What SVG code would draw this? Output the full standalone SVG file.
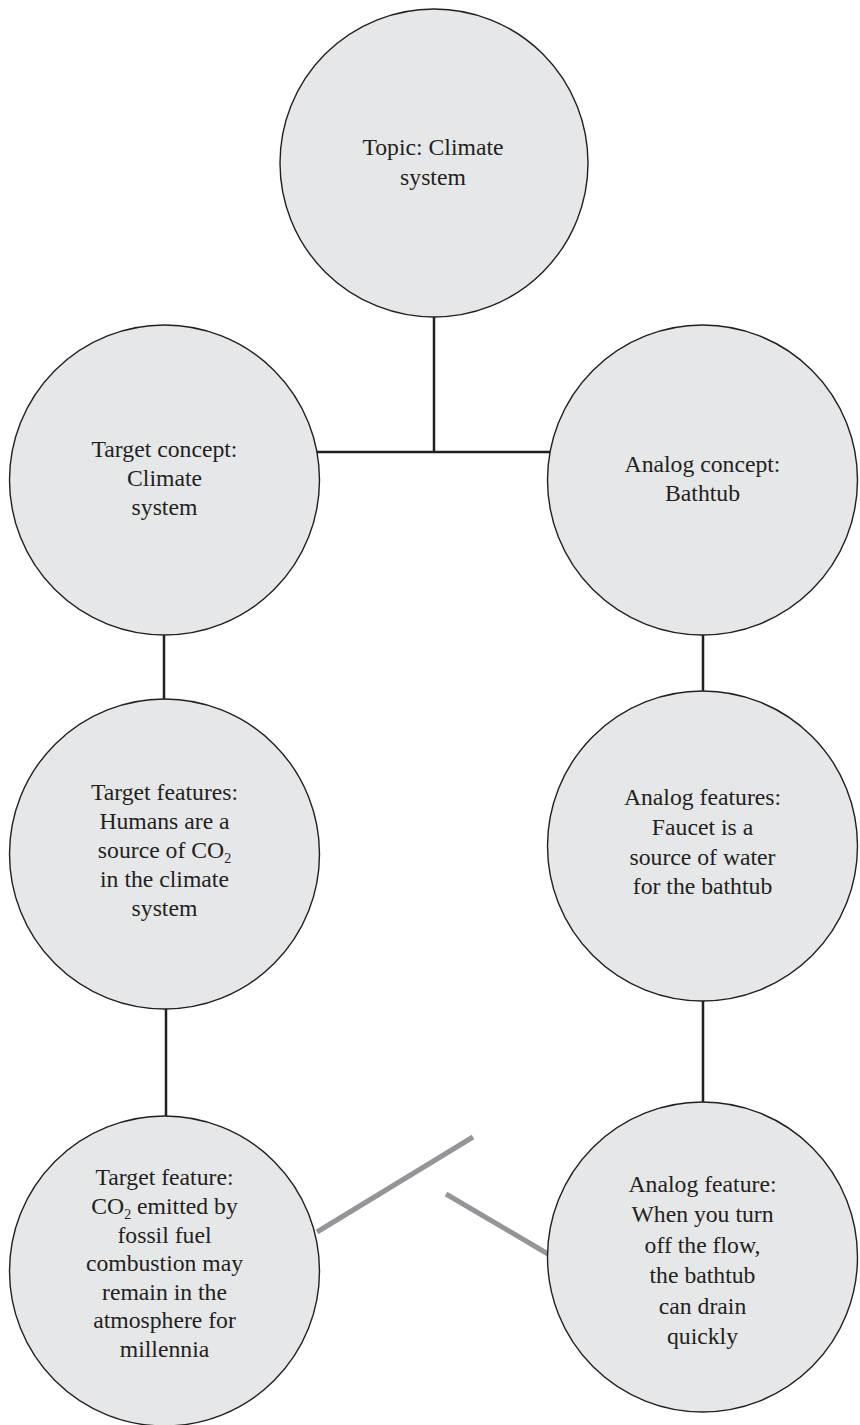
<svg xmlns="http://www.w3.org/2000/svg" width="860" height="1425" viewBox="0 0 860 1425">
  <style>
    .node { fill: #e6e7e8; stroke: #231f20; stroke-width: 1.4; }
    .label { font-family: "Liberation Serif", "Times New Roman", serif; font-size: 23.7px; fill: #231f20; text-anchor: middle; }
    .sub { font-size: 14px; }
    .link { stroke: #231f20; stroke-width: 2.5; fill: none; }
    .cross { stroke: #939598; stroke-width: 5; fill: none; }
  </style>
  <rect width="860" height="1425" fill="#ffffff"/>

  <g id="connectors">
    <line class="link" x1="434" y1="316" x2="434" y2="452"/>
    <line class="link" x1="316" y1="452" x2="550" y2="452"/>
    <line class="link" x1="164" y1="634" x2="164" y2="700"/>
    <line class="link" x1="703" y1="634" x2="703" y2="692"/>
    <line class="link" x1="166" y1="1008" x2="166" y2="1117"/>
    <line class="link" x1="703" y1="1000" x2="703" y2="1102"/>
    <line class="cross" x1="317" y1="1232" x2="473" y2="1137"/>
    <line class="cross" x1="446" y1="1194" x2="548" y2="1254"/>
  </g>

  <g id="topic">
    <circle class="node" cx="434" cy="163" r="154"/>
    <text class="label" x="433" y="155">Topic: Climate</text>
    <text class="label" x="433" y="185">system</text>
  </g>

  <g id="target-concept">
    <circle class="node" cx="164.5" cy="480" r="155"/>
    <text class="label" x="164.5" y="457">Target concept:</text>
    <text class="label" x="164.5" y="486">Climate</text>
    <text class="label" x="164.5" y="515">system</text>
  </g>

  <g id="analog-concept">
    <circle class="node" cx="702.5" cy="480" r="155"/>
    <text class="label" x="702.5" y="472">Analog concept:</text>
    <text class="label" x="702.5" y="501">Bathtub</text>
  </g>

  <g id="target-features">
    <circle class="node" cx="164.5" cy="854" r="155"/>
    <text class="label" x="164.5" y="800">Target features:</text>
    <text class="label" x="164.5" y="829">Humans are a</text>
    <text class="label" x="164.5" y="858">source of CO<tspan class="sub" dy="5">2</tspan></text>
    <text class="label" x="164.5" y="887">in the climate</text>
    <text class="label" x="164.5" y="916">system</text>
  </g>

  <g id="analog-features">
    <circle class="node" cx="702.5" cy="846" r="155"/>
    <text class="label" x="702.5" y="805">Analog features:</text>
    <text class="label" x="702.5" y="835">Faucet is a</text>
    <text class="label" x="702.5" y="865">source of water</text>
    <text class="label" x="702.5" y="894">for the bathtub</text>
  </g>

  <g id="target-feature">
    <circle class="node" cx="164.5" cy="1271" r="155"/>
    <text class="label" x="164.5" y="1185">Target feature:</text>
    <text class="label" x="164.5" y="1214">CO<tspan class="sub" dy="5">2</tspan><tspan dy="-5"> emitted by</tspan></text>
    <text class="label" x="164.5" y="1243">fossil fuel</text>
    <text class="label" x="164.5" y="1271">combustion may</text>
    <text class="label" x="164.5" y="1300">remain in the</text>
    <text class="label" x="164.5" y="1328">atmosphere for</text>
    <text class="label" x="164.5" y="1357">millennia</text>
  </g>

  <g id="analog-feature">
    <circle class="node" cx="702.5" cy="1257" r="155"/>
    <text class="label" x="702.5" y="1192">Analog feature:</text>
    <text class="label" x="702.5" y="1222">When you turn</text>
    <text class="label" x="702.5" y="1253">off the flow,</text>
    <text class="label" x="702.5" y="1283">the bathtub</text>
    <text class="label" x="702.5" y="1314">can drain</text>
    <text class="label" x="702.5" y="1344">quickly</text>
  </g>
</svg>
